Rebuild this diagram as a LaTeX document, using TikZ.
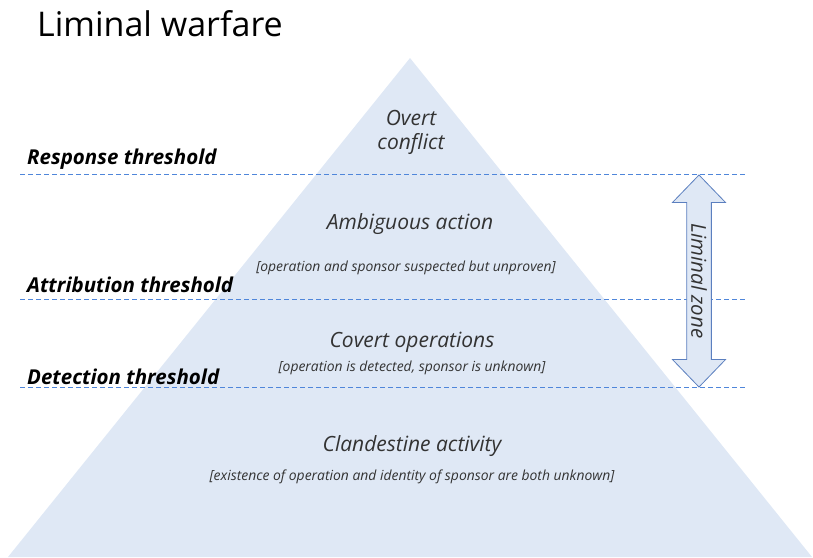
\documentclass[tikz,border=0pt]{standalone}
\usepackage{fontspec}
\setmainfont{Open Sans}
\usetikzlibrary{shapes.arrows}
\definecolor{pyrfill}{HTML}{DFE8F5}
\definecolor{dashblue}{HTML}{4F86DA}
\definecolor{arrowline}{HTML}{5B7FBF}
\definecolor{textgray}{HTML}{333333}
\begin{document}
\begin{tikzpicture}[x=1pt, y=-1pt,
  every node/.style={inner sep=0pt, text=textgray},
  level/.style={font=\fontsize{21}{24}\selectfont\itshape},
  note/.style={font=\fontsize{13.9}{15}\selectfont\itshape},
  thresh/.style={font=\fontsize{20.5}{22}\selectfont\bfseries\itshape, anchor=west, text=black},
  limit/.style={dashblue, line width=1pt, dash pattern=on 5pt off 3pt}]
\useasboundingbox (0,0) rectangle (813,557);
\coordinate (apex) at (410,58);
\coordinate (bl) at (8,557);
\coordinate (br) at (812,557);
\fill[pyrfill] (apex) -- (br) -- (bl) -- cycle;
\node[anchor=west, font=\fontsize{34}{36}\selectfont, text=black] (title) at (37,24) {Liminal warfare};
%% thresholds
\coordinate (r1) at (20,174); \coordinate (r2) at (745,174);
\coordinate (a1) at (20,299); \coordinate (a2) at (745,299);
\coordinate (d1) at (20,387); \coordinate (d2) at (745,387);
\draw[limit] (r1) -- (r2);
\draw[limit] (a1) -- (a2);
\draw[limit] (d1) -- (d2);
\node[thresh] (resp) at (27,159) {Response threshold};
\node[thresh] (attr) at (27,285) {Attribution threshold};
\node[thresh] (dete) at (27,377) {Detection threshold};
%% levels
\node[level, align=center] (overt) at (411,132) {Overt\\conflict};
\node[level] (ambi) at (410,224) {Ambiguous action};
\node[note] (ambinote) at (406,268) {[operation and sponsor suspected but unproven]};
\node[level] (covert) at (412,342) {Covert operations};
\node[note] (covnote) at (412,368) {[operation is detected, sponsor is unknown]};
\node[level] (cland) at (412,446) {Clandestine activity};
\node[note] (clnote) at (412,477) {[existence of operation and identity of sponsor are both unknown]};
%% liminal zone
\node[double arrow, draw=arrowline, fill=pyrfill, line width=0.8pt, rotate=-90,
  minimum height=212pt, minimum width=53pt, inner xsep=4pt, inner ysep=3.5pt,
  double arrow head extend=13.5pt, double arrow tip angle=88,
  font=\fontsize{20.5}{22}\selectfont\itshape] (zone) at (699,281) {Liminal zone};
\end{tikzpicture}
\end{document}
